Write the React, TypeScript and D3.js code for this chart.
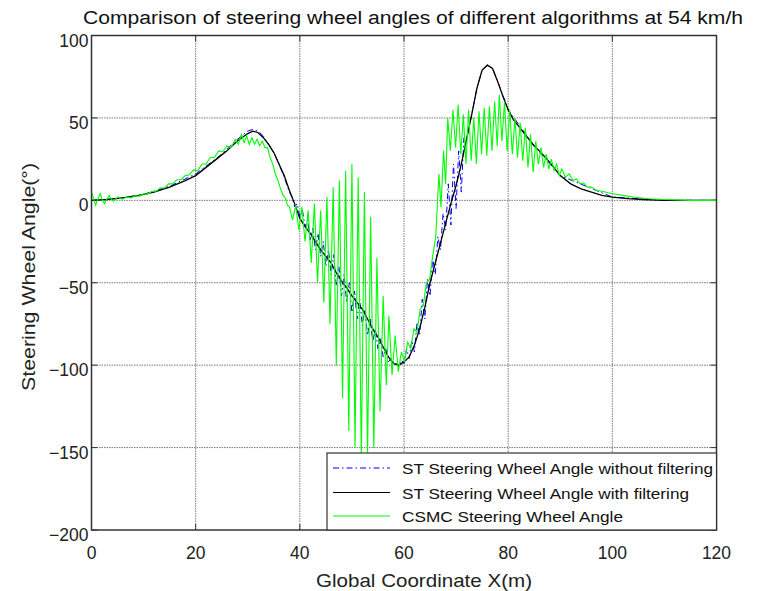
import React from "react";
import * as d3 from "d3";

const xTicks = [0, 20, 40, 60, 80, 100, 120];
const yTicks = [100, 50, 0, -50, -100, -150, -200];

const titleText = "Comparison of steering wheel angles of different algorithms at 54 km/h";
const xLabel = "Global Coordinate X(m)";
const yLabel = "Steering Wheel Angle(°)";
const legendLabels = [
  "ST Steering Wheel Angle without filtering",
  "ST Steering Wheel Angle with filtering",
  "CSMC Steering Wheel Angle",
];

// ST with filtering (black)
const stFiltered: [number, number][] = [
  [0, 0], [3, 0.5], [6, 1.5], [9, 3], [12, 5], [15, 8], [18, 12], [20, 15], [22, 20], [24, 25],
  [26, 30], [28, 36], [30, 40.5], [31, 42], [32, 41], [33, 38], [34, 34], [35, 29], [36, 22],
  [37, 15], [38, 6], [39, -2], [40, -11], [41, -16], [42, -20], [43, -25], [44, -30], [45, -34],
  [46, -38], [47, -44], [48, -49], [49, -53], [50, -58], [51, -62], [52, -66], [53, -72],
  [54, -78], [55, -83], [56, -89], [57, -95], [58, -99], [59, -100], [60, -98], [61, -95],
  [62, -88], [63, -78], [64, -65], [65, -50], [66, -38], [67, -26], [68, -14], [69, -2],
  [70, 9], [71, 22], [72, 37], [73, 52], [74, 68], [75, 79], [76, 82], [77, 80], [78, 72],
  [79, 63], [80, 55], [81, 49], [82, 45], [83, 41], [84, 37], [85, 33], [86, 30], [88, 23],
  [90, 15], [92, 10], [94, 7], [96, 5], [98, 3], [100, 2], [103, 1], [106, 0.5], [110, 0], [120, 0],
];

// ST without filtering (blue dash-dot)
const stRaw: [number, number][] = [
  [0, 0], [5, 1], [10, 3.5], [15, 8.5], [20, 16], [25, 28], [28, 37], [30, 42], [31, 43],
  [32, 42], [33, 39], [34, 34], [35, 29], [36, 22], [37, 14], [38, 5], [38.5, 2], [39, -4],
  [39.5, -2], [40, -10], [40.5, -6], [41, -16], [41.5, -12], [42, -24], [42.5, -17], [43, -30],
  [43.5, -20], [44, -34], [44.5, -25], [45, -40], [45.5, -30], [46, -45], [46.5, -33],
  [47, -52], [47.5, -40], [48, -58], [48.5, -45], [49, -62], [49.5, -50], [50, -68],
  [50.5, -55], [51, -72], [51.5, -60], [52, -76], [52.5, -66], [53, -82], [53.5, -72],
  [54, -86], [54.5, -78], [55, -90], [55.5, -84], [56, -95], [56.5, -90], [57, -98],
  [57.5, -96], [58, -100], [58.5, -99], [59, -101], [59.5, -97], [60, -99], [60.5, -90],
  [61, -96], [61.5, -85], [62, -92], [62.5, -74], [63, -82], [63.5, -60], [64, -72],
  [64.5, -48], [65, -58], [65.5, -35], [66, -45], [66.5, -22], [67, -30], [67.5, -8],
  [68, -18], [68.5, 10], [69, -15], [69.5, 22], [70, -5], [70.5, 30], [71, 5], [71.5, 38],
  [72, 37], [73, 52], [74, 68], [75, 79], [76, 82], [77, 80], [78, 72], [80, 55], [85, 33],
  [90, 15], [100, 2], [110, 0], [120, 0],
];

// CSMC (green)
const csmc: [number, number][] = [
  [0, 5], [0.4, 1], [0.8, -3], [1.2, 1], [1.7, 4], [2.1, 0], [2.5, -2], [3.0, 1], [3.4, 3],
  [3.8, 0.5], [4.2, -0.5], [4.7, 1], [5.1, 2], [5.6, 1], [6.0, 0.8], [6.8, 2], [7.6, 1.5],
  [8.4, 2.8], [9.2, 2.5], [10, 4], [10.8, 3.8], [11.6, 5.5], [12.4, 5.5], [13.2, 7.5],
  [14, 7.5], [14.8, 10], [15.6, 10], [16.4, 12.5], [17.2, 12.5], [18, 15], [18.8, 15.5],
  [19.6, 18.5], [20.4, 18], [21.2, 22], [22, 22], [22.8, 26], [23.6, 26], [24.4, 30],
  [25.2, 29.5], [26, 33], [26.8, 32], [27.6, 37], [28.2, 34], [28.8, 40], [29.3, 35],
  [29.8, 39], [30.3, 34], [30.8, 38], [31.3, 34], [31.8, 37], [32.3, 33], [32.8, 36],
  [33.3, 32], [33.8, 32], [34.3, 26], [34.8, 22], [35.3, 16], [35.8, 12], [36.3, 7],
  [36.8, 3], [37.3, 1], [37.6, -3], [38.0, -4], [38.6, -12], [39.2, -3], [39.8, -18],
  [40.4, -4], [41.0, -25], [41.6, -6], [42.2, -38], [42.8, -2], [43.4, -50], [44.0, -6],
  [44.6, -62], [45.2, 2], [45.8, -75], [46.4, 8], [47.0, -100], [47.6, 12], [48.2, -120],
  [48.8, 18], [49.4, -140], [50.0, 22], [50.6, -150], [51.2, 14], [51.8, -157], [52.4, 5],
  [53.0, -155], [53.6, -10], [54.2, -150], [54.8, -35], [55.4, -128], [56.0, -58],
  [56.6, -112], [57.1, -70], [57.7, -106], [58.3, -82], [58.9, -104], [59.5, -92],
  [60.1, -98], [60.7, -86], [61.3, -90], [61.9, -78], [62.5, -80], [63.1, -66], [63.7, -64],
  [64.3, -50], [64.9, -48], [65.5, -34], [66.1, -22], [66.7, 16], [67.1, -4], [67.6, 30],
  [68.0, 10], [68.4, 50], [68.9, 30], [69.4, 55], [69.9, 32], [70.4, 58], [70.9, 28],
  [71.4, 52], [71.9, 22], [72.4, 55], [72.9, 24], [73.4, 50], [73.9, 22], [74.4, 54],
  [74.9, 28], [75.4, 56], [75.9, 27], [76.4, 57], [76.9, 30], [77.4, 60], [77.9, 33],
  [78.3, 64], [78.8, 36], [79.3, 60], [79.8, 30], [80.3, 55], [80.8, 28], [81.3, 50],
  [81.8, 26], [82.3, 47], [82.8, 24], [83.3, 44], [83.8, 20], [84.3, 40], [84.8, 17],
  [85.3, 36], [85.8, 22], [86.3, 32], [86.8, 20], [87.3, 28], [87.8, 19], [88.3, 25],
  [88.8, 18], [89.3, 22], [89.8, 15], [90.3, 19], [91, 14], [91.7, 16], [92.4, 12],
  [93.1, 13], [93.8, 10], [94.5, 10.5], [95.2, 8], [96, 8], [97, 6], [98, 5.5], [100, 4],
  [102, 3], [104, 2], [107, 1], [110, 0.5], [115, 0], [120, 0],
];

const W = 758;
const H = 591;
const L = 91.5, R = 716.5, T = 35.5, B = 530;
const FONT = "'Liberation Sans', Arial, Helvetica, sans-serif";

export default function App() {
  const x = d3.scaleLinear().domain([0, 120]).range([L, R]);
  const y = d3.scaleLinear().domain([-200, 100]).range([B, T]);
  const line = d3
    .line<[number, number]>()
    .x((d) => x(d[0]))
    .y((d) => y(d[1]));

  const legendX = 327, legendY = 453, legendW = 389.5, legendH = 77;
  const rowY = [468, 492.5, 516];
  const textLens = [311, 287, 221];

  return (
    <svg
      width={W}
      height={H}
      style={{ position: "absolute", left: 0, top: 0, background: "#fff" }}
      fontFamily={FONT}
    >
      <rect x={0} y={0} width={W} height={H} fill="#fff" />
      <defs>
        <clipPath id="plotclip">
          <rect x={L} y={T} width={R - L} height={B - T} />
        </clipPath>
      </defs>
      {/* grid */}
      {xTicks.slice(1, -1).map((t) => (
        <line key={"gx" + t} x1={x(t)} x2={x(t)} y1={T} y2={B} stroke="#7a7a7a" strokeWidth={1} strokeDasharray="1.5,1" />
      ))}
      {yTicks.slice(1, -1).map((t) => (
        <line key={"gy" + t} x1={L} x2={R} y1={y(t)} y2={y(t)} stroke="#7a7a7a" strokeWidth={1} strokeDasharray="1.5,1" />
      ))}
      {/* ticks */}
      {xTicks.map((t) => (
        <g key={"tx" + t}>
          <line x1={x(t)} x2={x(t)} y1={B} y2={B - 6} stroke="#333" />
          <line x1={x(t)} x2={x(t)} y1={T} y2={T + 6} stroke="#333" />
        </g>
      ))}
      {yTicks.map((t) => (
        <g key={"ty" + t}>
          <line x1={L} x2={L + 6} y1={y(t)} y2={y(t)} stroke="#333" />
          <line x1={R} x2={R - 6} y1={y(t)} y2={y(t)} stroke="#333" />
        </g>
      ))}
      {/* series */}
      <g clipPath="url(#plotclip)" fill="none">
        <path d={line(stRaw) || ""} stroke="#0000ff" strokeWidth={1} strokeDasharray="6,3,1.5,3" />
        <path d={line(stFiltered) || ""} stroke="#000" strokeWidth={1.3} />
        <path d={line(csmc) || ""} stroke="#00ff00" strokeWidth={1.1} />
      </g>
      {/* box */}
      <rect x={L} y={T} width={R - L} height={B - T} fill="none" stroke="#333" strokeWidth={1.5} />
      {/* tick labels */}
      {xTicks.map((t) => (
        <text key={"lx" + t} x={x(t)} y={559} textAnchor="middle" fontSize={17.5} fill="#222">
          {t}
        </text>
      ))}
      {yTicks.map((t) => (
        <text key={"ly" + t} x={L - 3} y={y(t) + 11} textAnchor="end" fontSize={17.5} fill="#222">
          {t < 0 ? "\u2212" + Math.abs(t) : t}
        </text>
      ))}
      {/* title and labels */}
      <text x={83} y={24} fontSize={18} fill="#111" textLength={660} lengthAdjust="spacingAndGlyphs">
        {titleText}
      </text>
      <text x={316} y={587} fontSize={19} fill="#222" textLength={216} lengthAdjust="spacingAndGlyphs">
        {xLabel}
      </text>
      <text
        transform={`translate(35,${277}) rotate(-90)`}
        textAnchor="middle"
        fontSize={19}
        fill="#222"
        textLength={228}
        lengthAdjust="spacingAndGlyphs"
      >
        {yLabel}
      </text>
      {/* legend */}
      <rect x={legendX} y={legendY} width={legendW} height={legendH} fill="#fff" stroke="#333" strokeWidth={1.2} />
      <line x1={333} x2={390} y1={rowY[0]} y2={rowY[0]} stroke="#0000ff" strokeWidth={1} strokeDasharray="6,3,1.5,3" />
      <line x1={333} x2={390} y1={rowY[1]} y2={rowY[1]} stroke="#000" strokeWidth={1.2} />
      <line x1={333} x2={390} y1={rowY[2]} y2={rowY[2]} stroke="#00ff00" strokeWidth={1.2} />
      {legendLabels.map((s, i) => (
        <text
          key={s}
          x={402}
          y={rowY[i] + 6}
          fontSize={15.5}
          fill="#111"
          textLength={textLens[i]}
          lengthAdjust="spacingAndGlyphs"
        >
          {s}
        </text>
      ))}
    </svg>
  );
}
